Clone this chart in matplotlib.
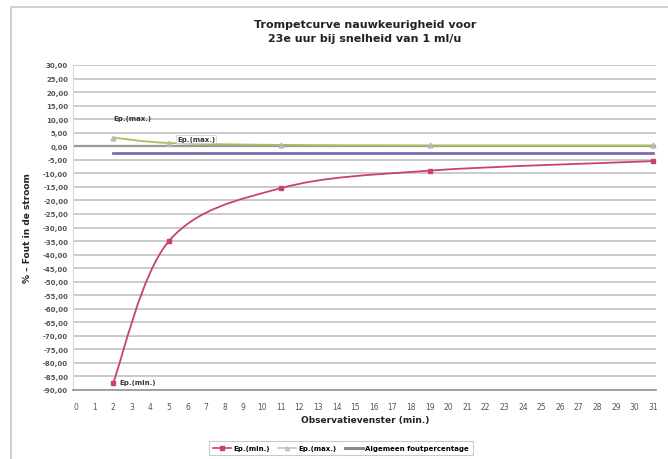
import numpy as np
import matplotlib.pyplot as plt
from matplotlib.path import Path
from matplotlib.patches import PathPatch
from matplotlib.lines import Line2D

# observation windows (min.) and errors (%)
x_pts = [2, 5, 11, 19, 31]
ep_min = [-87.5, -35.0, -15.5, -9.0, -5.5]
ep_max = [3.2, 1.2, 0.5, 0.3, 0.3]
alg_x = [2, 31]
alg_val = [-2.6, -2.6]

y_ticks = list(range(30, -95, -5))
x_ticks = list(range(0, 32))

RED = "#c8436a"
GREEN = "#a8bf5a"
PURPLE = "#7f6bb0"


def smooth_path(xs, ys, tension=1 / 6):
    # Excel-like smoothed line: Catmull-Rom segments as cubic Bezier curves
    pts = np.column_stack([xs, ys]).astype(float)
    verts = [pts[0]]
    codes = [Path.MOVETO]
    n = len(pts)
    for i in range(n - 1):
        p0 = pts[i - 1] if i > 0 else pts[i]
        p1, p2 = pts[i], pts[i + 1]
        p3 = pts[i + 2] if i + 2 < n else pts[i + 1]
        c1 = p1 + (p2 - p0) * tension
        c2 = p2 - (p3 - p1) * tension
        verts += [c1, c2, p2]
        codes += [Path.CURVE4] * 3
    return Path(verts, codes)


fig = plt.figure(figsize=(6.68, 4.6), dpi=100)
# chart area border (only left and top edges fall inside the picture)
fig.lines.append(Line2D([11 / 668, 11 / 668, 1.0], [0.0, 1 - 8 / 460, 1 - 8 / 460],
                        transform=fig.transFigure, color="#d0d0d0", linewidth=1.4))

ax = fig.add_axes([73 / 668, 1 - 391 / 460, 583 / 668, 325 / 460])
ax.set_xlim(-0.15, 31.15)
ax.set_ylim(-90, 30)

ax.set_yticks(y_ticks)
ax.set_yticklabels([f"{v:.2f}".replace(".", ",") for v in y_ticks])
ax.set_xticks(x_ticks)
ax.grid(axis="y", color="#bcbcbc", linewidth=1.1)
ax.set_axisbelow(True)
for s in ["top", "right"]:
    ax.spines[s].set_visible(False)
ax.spines["left"].set_color("#d8d8d8")
ax.spines["bottom"].set_color("#9a9a9a")
ax.spines["bottom"].set_linewidth(1.3)
ax.axhline(0, color="#9a9a9a", linewidth=1.6, zorder=1)
ax.tick_params(axis="both", length=0, labelsize=5, colors="#555555")
ax.tick_params(axis="x", pad=9, labelsize=5.5)
for lbl in ax.get_yticklabels():
    lbl.set_fontweight("bold")

ax.add_patch(PathPatch(smooth_path(x_pts, ep_min), fill=False,
                       edgecolor=RED, linewidth=1.3, zorder=3))
ax.plot(x_pts, ep_min, linestyle="none", marker="s", markersize=3.5,
        color=RED, zorder=4)
ax.add_patch(PathPatch(smooth_path(x_pts, ep_max), fill=False,
                       edgecolor=GREEN, linewidth=1.3, zorder=3))
ax.plot(x_pts, ep_max, linestyle="none", marker="^", markersize=3.5,
        color="#b8b8b8", zorder=4)
ax.plot(alg_x, alg_val, color=PURPLE, linewidth=2, zorder=3)

# legend proxies
h_min = Line2D([], [], color=RED, marker="s", markersize=3, linewidth=1.2)
h_max = Line2D([], [], color="#c4c4c4", marker="^", markersize=3, linewidth=1.2)
h_alg = Line2D([], [], color="#8a8a8a", linewidth=2.2)
leg = fig.legend([h_min, h_max, h_alg],
                 ["Ep.(min.)", "Ep.(max.)", "Algemeen foutpercentage"],
                 loc="center", bbox_to_anchor=(341 / 668, 1 - 449 / 460),
                 ncol=3, frameon=True, fancybox=False,
                 edgecolor="#bdbdbd", handlelength=2.6, columnspacing=1.2,
                 handletextpad=0.3, borderpad=0.6,
                 prop={"weight": "bold", "size": 5})
leg.get_frame().set_linewidth(0.8)

# data labels
ax.text(x_pts[0], 10.5, "Ep.(max.)", fontsize=5, fontweight="bold",
        color="#333333", va="center")
ax.text(x_pts[1] + 0.45, 2.8, "Ep.(max.)", fontsize=5, fontweight="bold",
        color="#333333", va="center",
        bbox=dict(boxstyle="square,pad=0.15", facecolor="white",
                  edgecolor="#cccccc", linewidth=0.5))
ax.text(x_pts[0] + 0.35, ep_min[0] + 0.5, "Ep.(min.)", fontsize=5,
        fontweight="bold", color="#333333", va="center", zorder=5,
        bbox=dict(boxstyle="square,pad=0.3", facecolor="white",
                  edgecolor="none"))

fig.text(365 / 668, 1 - 32 / 460,
         "Trompetcurve nauwkeurigheid voor\n23e uur bij snelheid van 1 ml/u",
         ha="center", va="center", fontsize=8, fontweight="bold",
         color="#222222", linespacing=1.5)
fig.text(365 / 668, 1 - 421 / 460, "Observatievenster (min.)", ha="center",
         va="center", fontsize=6.5, fontweight="bold", color="#222222")
ax.set_ylabel("% \u2013 Fout in de stroom", fontsize=6.5, fontweight="bold",
              color="#222222", labelpad=8)

fig.savefig("out.png", dpi=100)
